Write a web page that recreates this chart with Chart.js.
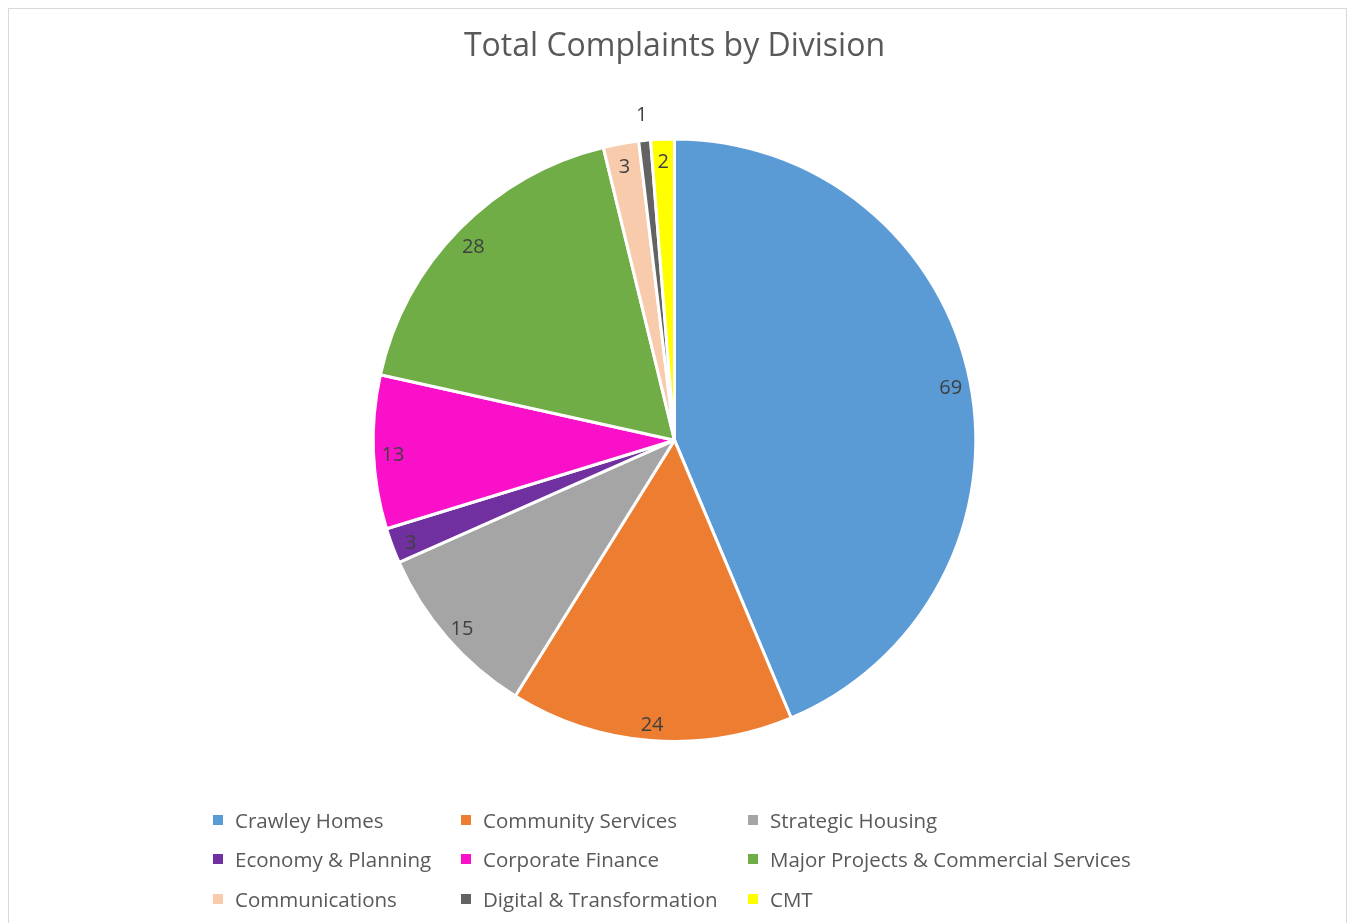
<!DOCTYPE html>
<html>
<head>
<meta charset="utf-8">
<script src="https://cdn.jsdelivr.net/npm/chart.js@4"></script>
<style>
    body { margin: 0; background: #fff; font-family: "Open Sans", sans-serif; }
    #frame { position: absolute; left: 8px; top: 8px; width: 1337px; height: 930px; border: 1px solid #d9d9d9; }
    #wrap { position: absolute; left: 0; top: 0; width: 1349px; height: 923px; }
    #legend { position: absolute; left: 213px; top: 805px; display: grid; grid-template-columns: 248px 287px auto; row-gap: 10px; }
    .item { display: flex; align-items: center; font-size: 20.5px; color: #595959; height: 29.5px; white-space: nowrap; }
    .sw { width: 10px; height: 10px; margin-right: 12px; }
</style>
</head>
<body>
<div id="frame"></div>
<div id="wrap"><canvas id="pieChart" width="1349" height="923"></canvas></div>
<div id="legend"></div>
<script>
const divisions = ['Crawley Homes', 'Community Services', 'Strategic Housing', 'Economy & Planning',
    'Corporate Finance', 'Major Projects & Commercial Services', 'Communications',
    'Digital & Transformation', 'CMT'];
const complaints = [69, 24, 15, 3, 13, 28, 3, 1, 2];
const colors = ['#5B9BD5', '#ED7D31', '#A5A5A5', '#7030A0', '#FA10C8', '#70AD47', '#F8CBAD', '#636363', '#FFFF00'];

// Value labels drawn inside the outer edge, moved outside when the slice is too thin
const valueLabels = {
    id: 'valueLabels',
    afterDatasetsDraw(chart) {
        const ctx = chart.ctx;
        const meta = chart.getDatasetMeta(0);
        ctx.save();
        ctx.font = '20px "Open Sans", sans-serif';
        ctx.fillStyle = '#404040';
        ctx.textAlign = 'center';
        ctx.textBaseline = 'middle';
        meta.data.forEach((arc, i) => {
            const p = arc.getProps(['x', 'y', 'startAngle', 'endAngle', 'outerRadius'], true);
            const mid = (p.startAngle + p.endAngle) / 2;
            const text = String(complaints[i]);
            const w = ctx.measureText(text).width;
            let r = p.outerRadius * 0.935;
            if ((p.endAngle - p.startAngle) * r < w * 1.6) r = p.outerRadius + 29;
            ctx.fillText(text, p.x + Math.cos(mid) * r, p.y + Math.sin(mid) * r + 4);
        });
        ctx.restore();
    }
};

const pieChart = new Chart(document.getElementById('pieChart').getContext('2d'), {
    type: 'pie',
    data: {
        labels: divisions,
        datasets: [{
            data: complaints,
            backgroundColor: colors,
            borderColor: '#ffffff',
            borderWidth: 3
        }]
    },
    options: {
        responsive: false,
        animation: false,
        layout: { padding: { top: 0, bottom: 180 } },
        plugins: {
            legend: { display: false },
            tooltip: { enabled: false },
            title: {
                display: true,
                text: 'Total Complaints by Division',
                color: '#595959',
                font: { family: '"Open Sans", sans-serif', size: 32, weight: 'normal' },
                padding: { top: 28, bottom: 71 }
            }
        }
    },
    plugins: [valueLabels]
});

// Legend in three columns like the original
const legend = document.getElementById('legend');
divisions.forEach((name, i) => {
    const item = document.createElement('div');
    item.className = 'item';
    item.innerHTML = '<span class="sw" style="background:' + colors[i] + '"></span>' + name.replace('&', '&amp;');
    legend.appendChild(item);
});
</script>
</body>
</html>
